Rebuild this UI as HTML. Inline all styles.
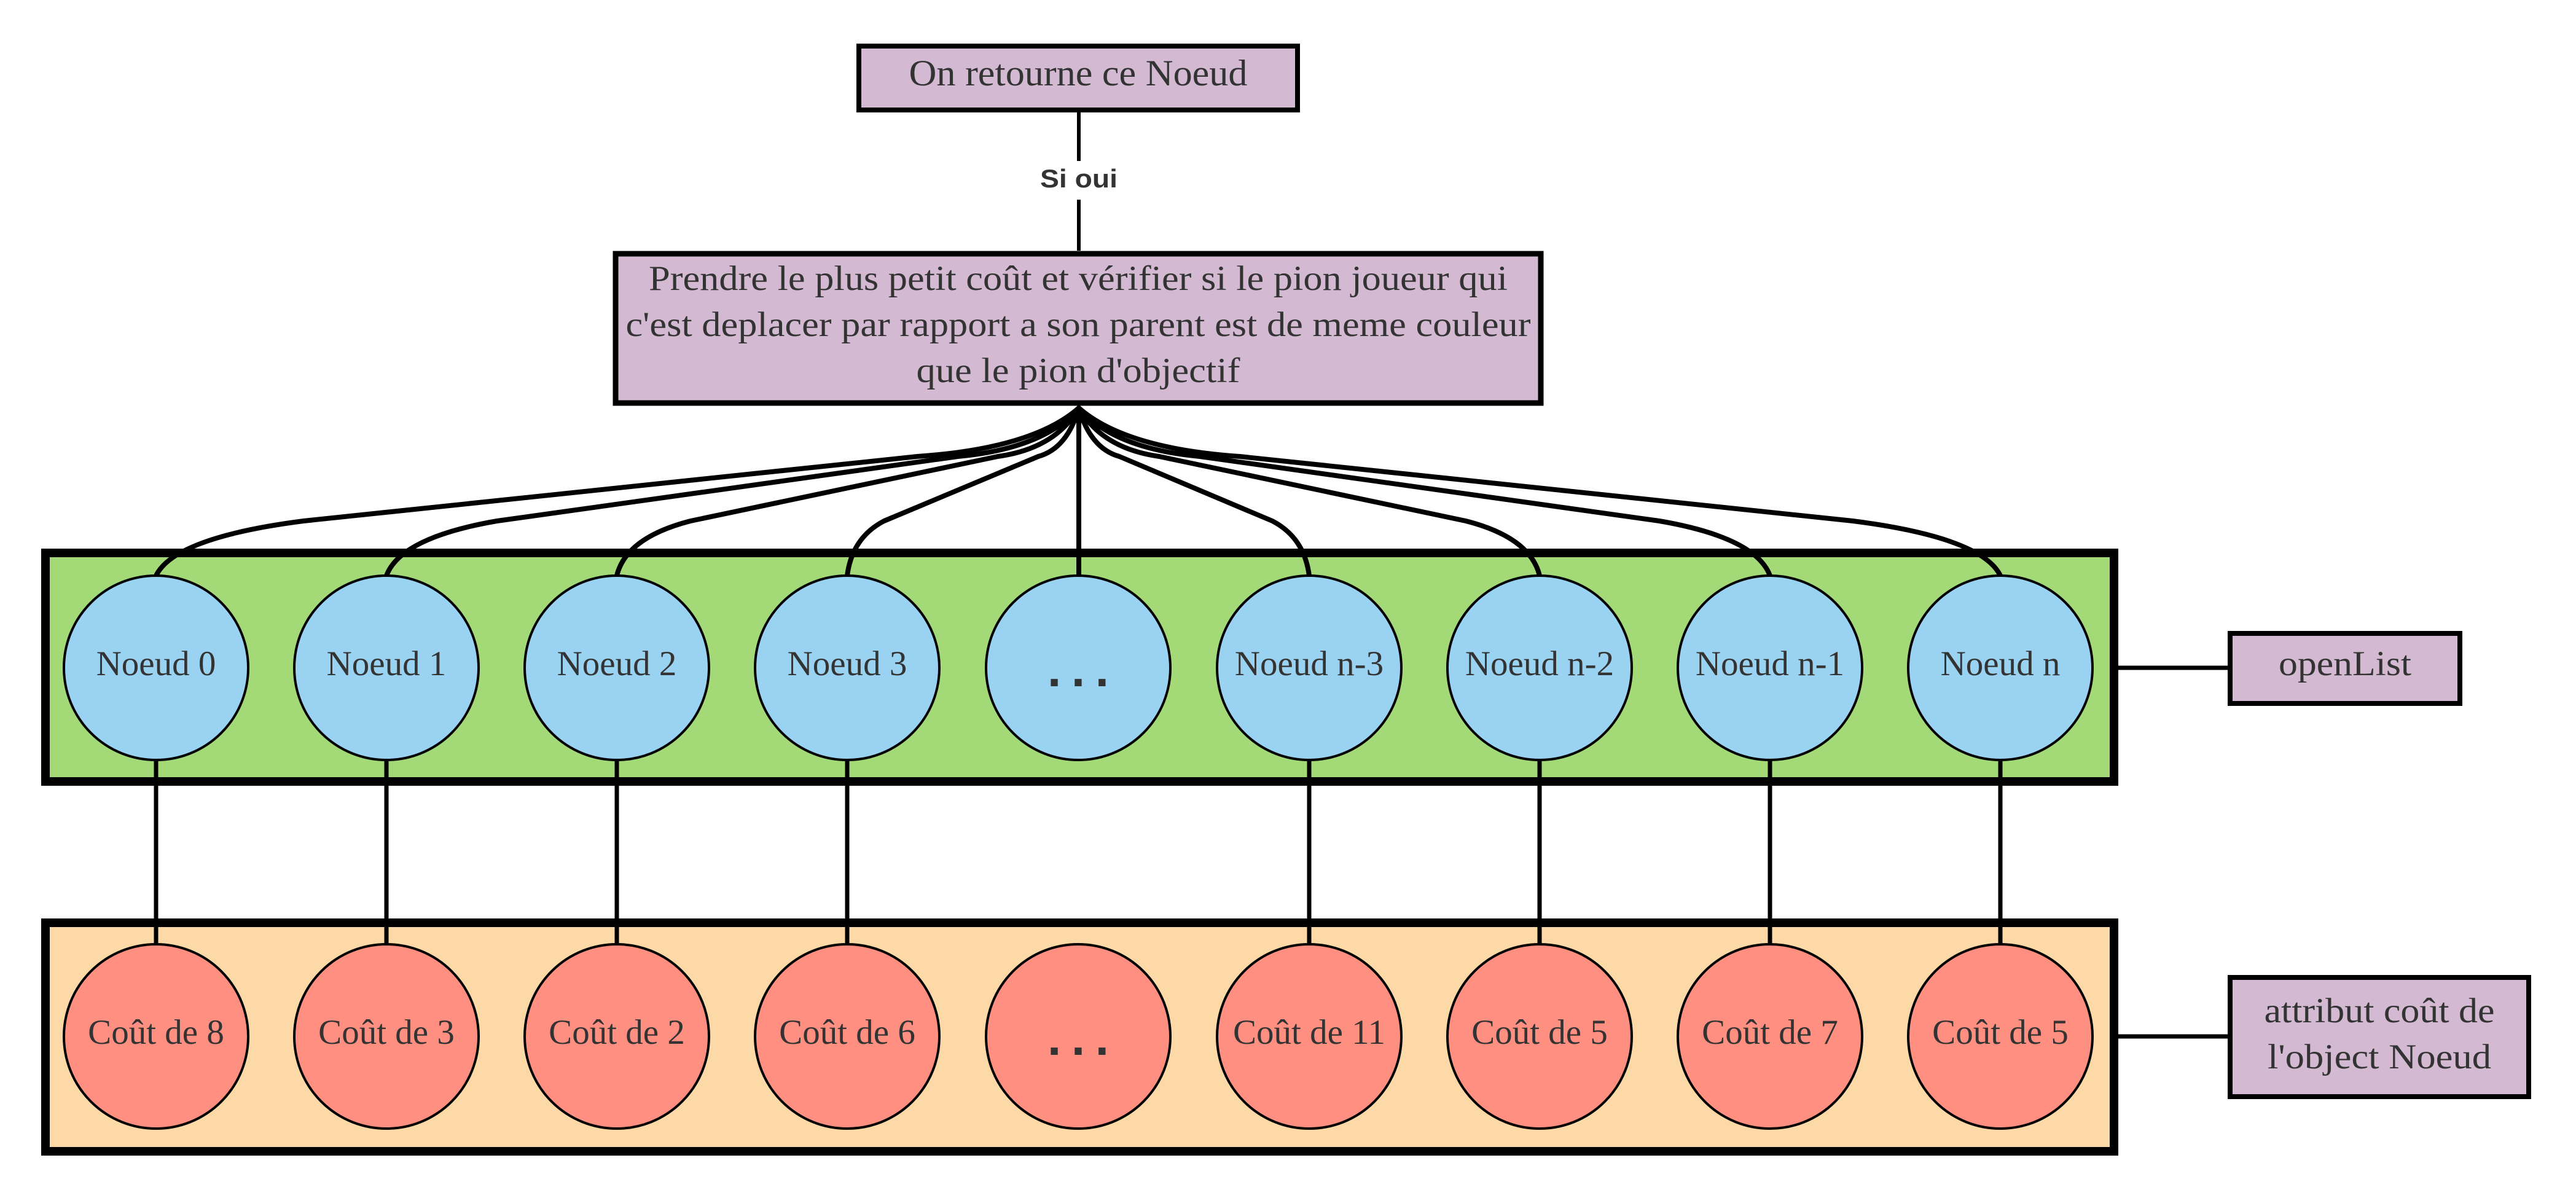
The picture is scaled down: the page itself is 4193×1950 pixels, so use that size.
<!DOCTYPE html>
<html><head><meta charset="utf-8"><style>html,body{margin:0;padding:0;background:#fff}svg{display:block}</style></head>
<body>
<svg width="4193" height="1950" viewBox="0 0 4193 1950" xmlns="http://www.w3.org/2000/svg">
<rect width="4193" height="1950" fill="#fff"/>
<rect x="1398" y="75" width="714" height="104" fill="#d3bad2" stroke="#000" stroke-width="8"/>
<text x="1755" y="139" font-family="Liberation Serif, serif" font-size="60" fill="#333" text-anchor="middle" textLength="551" lengthAdjust="spacingAndGlyphs">On retourne ce Noeud</text>
<line x1="1756" y1="182" x2="1756" y2="262" stroke="#000" stroke-width="6"/>
<line x1="1756" y1="325" x2="1756" y2="408" stroke="#000" stroke-width="6"/>
<text x="1756" y="305" font-family="Liberation Sans, sans-serif" font-weight="bold" font-size="42" fill="#333" text-anchor="middle" textLength="126" lengthAdjust="spacingAndGlyphs">Si oui</text>
<rect x="1002" y="413" width="1506" height="243" fill="#d3bad2" stroke="#000" stroke-width="9"/>
<g font-family="Liberation Serif, serif" font-size="57" fill="#333" text-anchor="middle">
<text x="1755" y="472" textLength="1398" lengthAdjust="spacingAndGlyphs">Prendre le plus petit coût et vérifier si le pion joueur qui</text>
<text x="1755" y="547" textLength="1473" lengthAdjust="spacingAndGlyphs">c'est deplacer par rapport a son parent est de meme couleur</text>
<text x="1755" y="622" textLength="527" lengthAdjust="spacingAndGlyphs">que le pion d'objectif</text>
</g>
<rect x="74" y="900" width="3367" height="372" fill="#a3d977" stroke="#000" stroke-width="14"/>
<rect x="74" y="1502" width="3367" height="372" fill="#fdd9a7" stroke="#000" stroke-width="14"/>
<line x1="3448" y1="1087" x2="3626" y2="1087" stroke="#000" stroke-width="7"/>
<line x1="3448" y1="1687" x2="3626" y2="1687" stroke="#000" stroke-width="7"/>
<rect x="3630" y="1031" width="374" height="114" fill="#d3bad2" stroke="#000" stroke-width="8"/>
<text x="3817" y="1099" font-family="Liberation Serif, serif" font-size="57" fill="#333" text-anchor="middle" textLength="216" lengthAdjust="spacingAndGlyphs">openList</text>
<rect x="3630" y="1591" width="486" height="194" fill="#d3bad2" stroke="#000" stroke-width="8"/>
<text x="3873" y="1664" font-family="Liberation Serif, serif" font-size="57" fill="#333" text-anchor="middle" textLength="375" lengthAdjust="spacingAndGlyphs">attribut coût de</text>
<text x="3873" y="1739" font-family="Liberation Serif, serif" font-size="57" fill="#333" text-anchor="middle" textLength="364" lengthAdjust="spacingAndGlyphs">l'object Noeud</text>
<g fill="none" stroke="#000" stroke-width="8" stroke-linecap="round" stroke-linejoin="round">
<path d="M1756 664 Q1681 730 1493 743 L494 848 Q284 875 254 937"/>
<path d="M1756 664 Q1700 730 1559 743 L809 848 Q652 875 629 937"/>
<path d="M1756 664 Q1718 730 1624 743 L1124 848 Q1019 875 1004 937"/>
<path d="M1756 664 Q1737 730 1690 743 L1439 848 Q1387 875 1379 937"/>
<line x1="1756" y1="664" x2="1756" y2="937"/>
<path d="M1756 664 Q1775 730 1822 743 L2071 848 Q2123 875 2131 937"/>
<path d="M1756 664 Q1794 730 1887 743 L2386 848 Q2491 875 2506 937"/>
<path d="M1756 664 Q1812 730 1953 743 L2701 848 Q2858 875 2881 937"/>
<path d="M1756 664 Q1831 730 2018 743 L3016 848 Q3226 875 3256 937"/>
</g>
<g stroke="#000" stroke-width="7">
<line x1="254" y1="1237" x2="254" y2="1537"/>
<line x1="629" y1="1237" x2="629" y2="1537"/>
<line x1="1004" y1="1237" x2="1004" y2="1537"/>
<line x1="1379" y1="1237" x2="1379" y2="1537"/>
<line x1="2131" y1="1237" x2="2131" y2="1537"/>
<line x1="2506" y1="1237" x2="2506" y2="1537"/>
<line x1="2881" y1="1237" x2="2881" y2="1537"/>
<line x1="3256" y1="1237" x2="3256" y2="1537"/>
</g>
<g fill="#9ad2f2" stroke="#000" stroke-width="4">
<circle cx="254" cy="1087" r="150"/><circle cx="629" cy="1087" r="150"/><circle cx="1004" cy="1087" r="150"/><circle cx="1379" cy="1087" r="150"/><circle cx="1755" cy="1087" r="150"/><circle cx="2131" cy="1087" r="150"/><circle cx="2506" cy="1087" r="150"/><circle cx="2881" cy="1087" r="150"/><circle cx="3256" cy="1087" r="150"/>
</g>
<g fill="#ff8f80" stroke="#000" stroke-width="4">
<circle cx="254" cy="1687" r="150"/><circle cx="629" cy="1687" r="150"/><circle cx="1004" cy="1687" r="150"/><circle cx="1379" cy="1687" r="150"/><circle cx="1755" cy="1687" r="150"/><circle cx="2131" cy="1687" r="150"/><circle cx="2506" cy="1687" r="150"/><circle cx="2881" cy="1687" r="150"/><circle cx="3256" cy="1687" r="150"/>
</g>
<g font-family="Liberation Serif, serif" font-size="57" fill="#333" text-anchor="middle">
<text x="254" y="1099">Noeud 0</text><text x="629" y="1099">Noeud 1</text><text x="1004" y="1099">Noeud 2</text><text x="1379" y="1099">Noeud 3</text>
<text x="2131" y="1099">Noeud n-3</text><text x="2506" y="1099">Noeud n-2</text><text x="2881" y="1099">Noeud n-1</text><text x="3256" y="1099">Noeud n</text>
<text x="254" y="1699">Coût de 8</text><text x="629" y="1699">Coût de 3</text><text x="1004" y="1699">Coût de 2</text><text x="1379" y="1699">Coût de 6</text>
<text x="2131" y="1699">Coût de 11</text><text x="2506" y="1699">Coût de 5</text><text x="2881" y="1699">Coût de 7</text><text x="3256" y="1699">Coût de 5</text>
</g>
<g font-family="Liberation Sans, sans-serif" font-weight="bold" font-size="80" fill="#333" text-anchor="middle">
<text x="1755" y="1117" textLength="100" lengthAdjust="spacing">...</text>
<text x="1755" y="1717" textLength="100" lengthAdjust="spacing">...</text>
</g>
</svg>
</body></html>
